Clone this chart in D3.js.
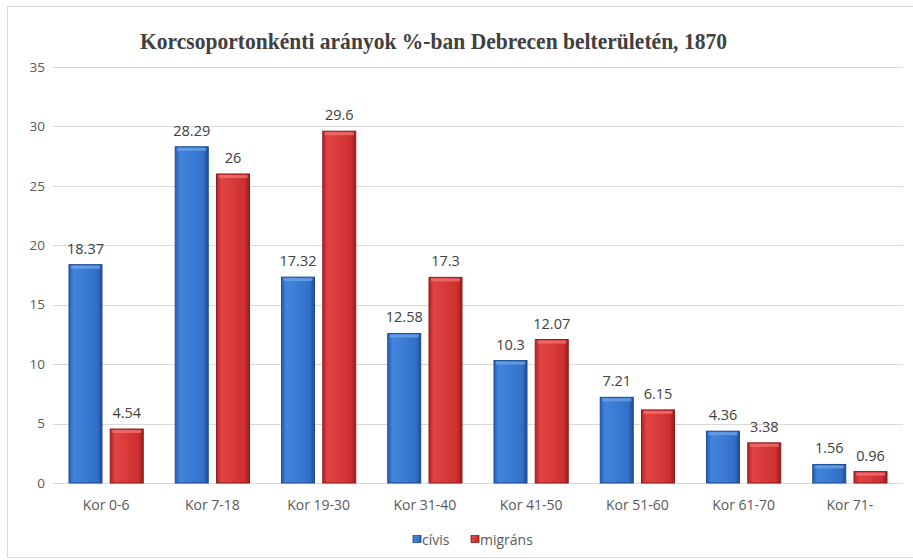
<!DOCTYPE html>
<html><head><meta charset="utf-8">
<script src="https://cdn.jsdelivr.net/npm/d3@7"></script>
<style>body{margin:0;background:#fff}svg{display:block}</style>
</head><body>
<svg id="c" width="913" height="560"></svg>
<script>
const categories = ["Kor 0-6","Kor 7-18","Kor 19-30","Kor 31-40","Kor 41-50","Kor 51-60","Kor 61-70","Kor 71-"];
const civis = [18.37,28.29,17.32,12.58,10.3,7.21,4.36,1.56];
const migrans = [4.54,26,29.6,17.3,12.07,6.15,3.38,0.96];
const seriesNames = ["cívis","migráns"];
const yTicks = [0,5,10,15,20,25,30,35];

const svg = d3.select("#c");
const W = 913, H = 560;
const m = {l:53, r:10, t:67, b:77};
const x = d3.scaleBand().domain(categories).range([m.l, 903]).paddingInner(0).paddingOuter(0);
const y = d3.scaleLinear().domain([0,35]).range([483, 67]);
const x1 = d3.scaleBand().domain(seriesNames).range([16, x.bandwidth()-16]).paddingInner(0.2);

const defs = svg.append("defs");
function grad(id, stops){
  const g = defs.append("linearGradient").attr("id",id).attr("x1","0").attr("x2","1").attr("y1","0").attr("y2","0");
  stops.forEach(s=>g.append("stop").attr("offset",s[0]).attr("stop-color",s[1]));
}
grad("gb", [[0,"#2a5fb4"],[0.15,"#4185dc"],[0.5,"#3b7bd4"],[0.85,"#3370c8"],[1,"#1f4c98"]]);
grad("gr", [[0,"#b52525"],[0.15,"#e04444"],[0.5,"#d93a3a"],[0.85,"#cc3030"],[1,"#9a1c1c"]]);

svg.append("rect").attr("x",7.5).attr("y",6.5).attr("width",W).attr("height",H-9)
  .attr("fill","#fff").attr("stroke","#d9d9d9");

// grid
svg.append("g").selectAll("line").data(yTicks).join("line")
  .attr("x1",m.l).attr("x2",903).attr("y1",d=>Math.round(y(d))+0.5).attr("y2",d=>Math.round(y(d))+0.5)
  .attr("stroke","#d9d9d9").attr("stroke-width",1);

const sans = "Open Sans, Liberation Sans, sans-serif";
// y axis labels
svg.append("g").selectAll("text").data(yTicks).join("text")
  .attr("x",45).attr("y",d=>y(d)).attr("dy","0.35em").attr("text-anchor","end")
  .attr("font-family",sans).attr("font-size",13.5).attr("fill","#595959")
  .text(d=>d);

// x labels
svg.append("g").selectAll("text").data(categories).join("text")
  .attr("x",d=>x(d)+x.bandwidth()/2).attr("y",510).attr("text-anchor","middle")
  .attr("font-family",sans).attr("font-size",14).attr("fill","#595959")
  .text(d=>d);

const data = [];
categories.forEach((c,i)=>{
  data.push({c, s:"cívis", v:civis[i], g:"url(#gb)", e:"#1d4a90", hi:"#6aa3ea"});
  data.push({c, s:"migráns", v:migrans[i], g:"url(#gr)", e:"#8e1b1b", hi:"#f07070"});
});

const bars = svg.append("g").selectAll("g").data(data).join("g");
bars.append("rect")
  .attr("x",d=>x(d.c)+x1(d.s)).attr("y",d=>y(d.v)).attr("width",x1.bandwidth()).attr("height",d=>y(0)-y(d.v))
  .attr("fill",d=>d.g).attr("stroke",d=>d.e).attr("stroke-width",1);
bars.append("rect")
  .attr("x",d=>x(d.c)+x1(d.s)+2).attr("y",d=>y(d.v)+1).attr("width",x1.bandwidth()-4).attr("height",3)
  .attr("fill",d=>d.hi).attr("opacity",0.8);

// value labels
bars.append("text")
  .attr("x",d=>x(d.c)+x1(d.s)+x1.bandwidth()/2).attr("y",d=>y(d.v)-11).attr("text-anchor","middle")
  .attr("font-family",sans).attr("font-size",14.5).attr("fill","#404040")
  .text(d=>d.v);

// title
svg.append("text").attr("x",140).attr("y",48.5)
  .attr("font-family","Liberation Serif, Times New Roman, serif").attr("font-weight","bold").attr("font-size",23)
  .attr("textLength",587).attr("lengthAdjust","spacingAndGlyphs")
  .attr("fill","#404040").text("Korcsoportonkénti arányok %-ban Debrecen belterületén, 1870");

// legend
const leg = svg.append("g");
const items = [{n:"cívis",c:"url(#gb)",e:"#1d4a90",x:413},{n:"migráns",c:"url(#gr)",e:"#8e1b1b",x:471}];
items.forEach(it=>{
  leg.append("rect").attr("x",it.x).attr("y",535.5).attr("width",8).attr("height",7).attr("fill",it.c).attr("stroke",it.e).attr("stroke-width",0.8);
  leg.append("text").attr("x",it.x+9).attr("y",545).attr("font-family",sans)
    .attr("font-size",14).attr("fill","#595959").text(it.n);
});
</script>
</body></html>
